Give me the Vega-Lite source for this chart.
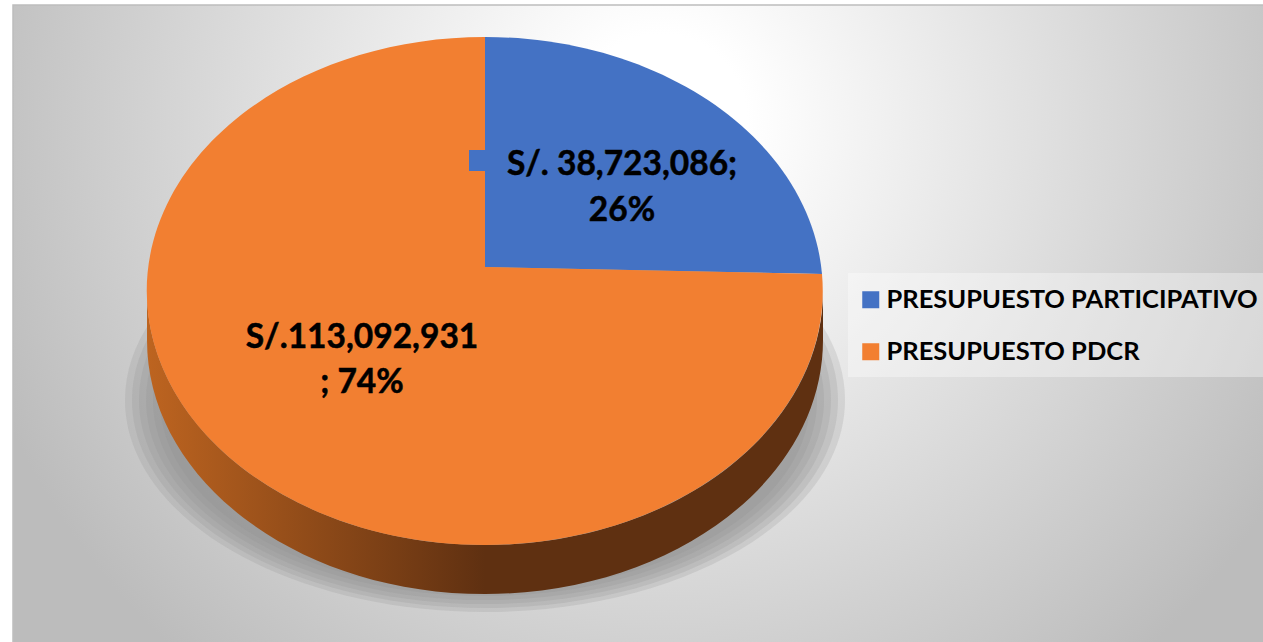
{"$schema":"https://vega.github.io/schema/vega-lite/v6.json","width":1263,"height":642,"padding":0,"autosize":{"type":"none"},"background":"white","config":{"view":{"stroke":null},"font":"Lato"},"layer":[
{"data":{"values":[{"part":"background"}]},"mark":{"type":"rect","fill":{"gradient":"radial","x1":0.513,"y1":0.334,"r1":0,"x2":0.513,"y2":0.334,"r2":0.57,"stops":[{"offset":0,"color":"#ffffff"},{"offset":0.12,"color":"#ffffff"},{"offset":1,"color":"#bcbcbc"}]},"stroke":"#bdbdbd","strokeWidth":1.5},"encoding":{"x":{"datum":13,"type":"quantitative","scale":{"domain":[0,1263],"nice":false,"zero":false},"axis":null},"x2":{"datum":1275},"y":{"datum":5,"type":"quantitative","scale":{"domain":[642,0],"nice":false,"zero":false},"axis":null},"y2":{"datum":655}}},
{"data":{"values":[{"ring":1},{"ring":2},{"ring":3},{"ring":4},{"ring":5},{"ring":6}]},"mark":{"type":"point","size":4,"filled":true,"opacity":0.2,"strokeWidth":0,"fill":"#8c8c8c"},"encoding":{"x":{"datum":485,"type":"quantitative","scale":{"domain":[0,1263],"nice":false,"zero":false},"axis":null},"y":{"datum":400,"type":"quantitative","scale":{"domain":[642,0],"nice":false,"zero":false},"axis":null},"shape":{"field":"ring","type":"nominal","legend":null,"scale":{"domain":[1,2,3,4,5,6,26,74],"range":["M-360,0 A360,212 0 1 1 360,0 A360,212 0 1 1 -360,0 Z","M-353,0 A353,208 0 1 1 353,0 A353,208 0 1 1 -353,0 Z","M-346,0 A346,204 0 1 1 346,0 A346,204 0 1 1 -346,0 Z","M-339,0 A339,200 0 1 1 339,0 A339,200 0 1 1 -339,0 Z","M-332,0 A332,196 0 1 1 332,0 A332,196 0 1 1 -332,0 Z","M-325,0 A325,192 0 1 1 325,0 A325,192 0 1 1 -325,0 Z","M0,-24 L0,-254 A338,254 0 0 1 337,-17 Z","M0,-24 L337,-17 A338,254 0 1 1 0,-254 Z"]}}}},
{"data":{"values":[{"part":"legend band"}]},"mark":{"type":"rect","fill":"#ffffff","opacity":0.35},"encoding":{"x":{"datum":848,"type":"quantitative","scale":{"domain":[0,1263],"nice":false,"zero":false},"axis":null},"x2":{"datum":1275},"y":{"datum":273,"type":"quantitative","scale":{"domain":[642,0],"nice":false,"zero":false},"axis":null},"y2":{"datum":377}}},
{"data":{"values":[{"part":"rim"}]},"mark":{"type":"point","shape":"M-338,0 A338,254 0 0 0 338,0 L338,49 A338,254 0 0 1 -338,49 Z","size":4,"filled":true,"opacity":1,"strokeWidth":0,"fill":{"gradient":"linear","x1":0,"y1":0,"x2":1,"y2":0,"stops":[{"offset":0,"color":"#bd6420"},{"offset":0.5,"color":"#5f3011"},{"offset":1,"color":"#5f3011"}]}},"encoding":{"x":{"datum":485,"type":"quantitative","scale":{"domain":[0,1263],"nice":false,"zero":false},"axis":null},"y":{"datum":291,"type":"quantitative","scale":{"domain":[642,0],"nice":false,"zero":false},"axis":null}}},
{"data":{"name":"slices","values":[{"category":"PRESUPUESTO PARTICIPATIVO","value":38723086,"percent":26,"label":"S/. 38,723,086;\n26%"},{"category":"PRESUPUESTO PDCR","value":113092931,"percent":74,"label":"S/.113,092,931\n; 74%"}]},"layer":[
{"mark":{"type":"point","size":4,"filled":true,"opacity":1,"strokeWidth":0},"encoding":{"x":{"datum":485,"type":"quantitative","scale":{"domain":[0,1263],"nice":false,"zero":false},"axis":null},"y":{"datum":291,"type":"quantitative","scale":{"domain":[642,0],"nice":false,"zero":false},"axis":null},"color":{"field":"category","type":"nominal","scale":{"domain":["PRESUPUESTO PARTICIPATIVO","PRESUPUESTO PDCR"],"range":["#4472c4","#f27f31"]},"legend":{"title":null,"orient":"none","legendX":858,"legendY":287,"padding":0,"symbolType":"square","symbolSize":289,"symbolStrokeWidth":0,"symbolOpacity":1,"labelFont":"Lato","labelFontWeight":"bold","labelFontSize":25.5,"labelColor":"#000000","labelLimit":500,"labelOffset":3,"rowPadding":25}},"shape":{"field":"percent","type":"nominal","legend":null,"scale":{"domain":[1,2,3,4,5,6,26,74],"range":["M-360,0 A360,212 0 1 1 360,0 A360,212 0 1 1 -360,0 Z","M-353,0 A353,208 0 1 1 353,0 A353,208 0 1 1 -353,0 Z","M-346,0 A346,204 0 1 1 346,0 A346,204 0 1 1 -346,0 Z","M-339,0 A339,200 0 1 1 339,0 A339,200 0 1 1 -339,0 Z","M-332,0 A332,196 0 1 1 332,0 A332,196 0 1 1 -332,0 Z","M-325,0 A325,192 0 1 1 325,0 A325,192 0 1 1 -325,0 Z","M0,-24 L0,-254 A338,254 0 0 1 337,-17 Z","M0,-24 L337,-17 A338,254 0 1 1 0,-254 Z"]}}}},
{"transform":[{"filter":"datum.percent==26"}],"mark":{"type":"rect","fill":"#4472c4"},"encoding":{"x":{"datum":469,"type":"quantitative","scale":{"domain":[0,1263],"nice":false,"zero":false},"axis":null},"x2":{"datum":486},"y":{"datum":150,"type":"quantitative","scale":{"domain":[642,0],"nice":false,"zero":false},"axis":null},"y2":{"datum":171}}},
{"transform":[{"filter":"datum.percent==26"}],"mark":{"type":"text","font":"Lato","fontWeight":"bold","fontSize":33.5,"color":"#000000","stroke":"#000000","strokeWidth":0.5,"align":"center","baseline":"alphabetic","lineBreak":"\n","lineHeight":46},"encoding":{"text":{"field":"label"},"x":{"datum":622,"type":"quantitative","scale":{"domain":[0,1263],"nice":false,"zero":false},"axis":null},"y":{"datum":175,"type":"quantitative","scale":{"domain":[642,0],"nice":false,"zero":false},"axis":null}}},
{"transform":[{"filter":"datum.percent==74"}],"mark":{"type":"text","font":"Lato","fontWeight":"bold","fontSize":33.5,"color":"#000000","stroke":"#000000","strokeWidth":0.5,"align":"center","baseline":"alphabetic","lineBreak":"\n","lineHeight":45},"encoding":{"text":{"field":"label"},"x":{"datum":362,"type":"quantitative","scale":{"domain":[0,1263],"nice":false,"zero":false},"axis":null},"y":{"datum":348,"type":"quantitative","scale":{"domain":[642,0],"nice":false,"zero":false},"axis":null}}}
]}
]}
